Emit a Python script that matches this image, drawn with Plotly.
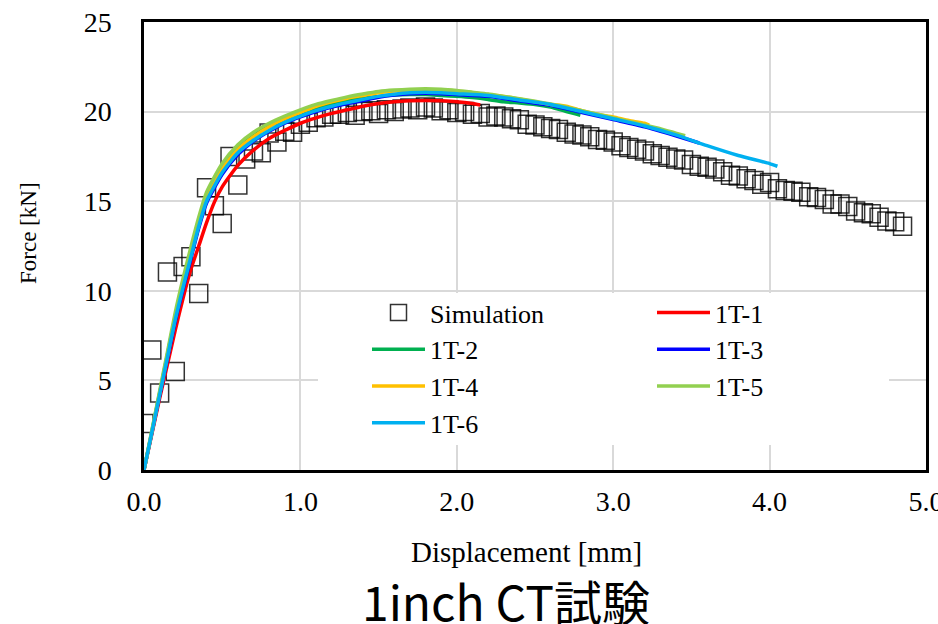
import plotly.graph_objects as go

# ---- Simulation (FEM) load-displacement points ----
sim_disp = [0.00, 0.05, 0.10, 0.15, 0.20, 0.25, 0.30, 0.35, 0.40, 0.45,
            0.50, 0.55, 0.60, 0.65, 0.70, 0.75, 0.80, 0.85, 0.90, 0.95,
            1.00, 1.05, 1.10, 1.15, 1.20, 1.25, 1.30, 1.35, 1.40, 1.45,
            1.50, 1.55, 1.60, 1.65, 1.70, 1.75, 1.80, 1.85, 1.90, 1.95,
            2.00, 2.05, 2.10, 2.15, 2.20, 2.25, 2.30, 2.35, 2.40, 2.45,
            2.50, 2.55, 2.60, 2.65, 2.70, 2.75, 2.80, 2.85, 2.90, 2.95,
            3.00, 3.05, 3.10, 3.15, 3.20, 3.25, 3.30, 3.35, 3.40, 3.45,
            3.50, 3.55, 3.60, 3.65, 3.70, 3.75, 3.80, 3.85, 3.90, 3.95,
            4.00, 4.05, 4.10, 4.15, 4.20, 4.25, 4.30, 4.35, 4.40, 4.45,
            4.50, 4.55, 4.60, 4.65, 4.70, 4.75, 4.80, 4.85]
sim_force = [2.6, 6.7, 4.3, 11.05, 5.5, 11.35, 11.9, 9.85, 15.75, 14.75,
             13.75, 17.5, 15.9, 17.35, 17.8, 17.7, 18.8, 18.3, 18.9, 18.85,
             19.3, 19.4, 19.65, 19.7, 19.85, 19.85, 19.95, 19.8, 20.0, 20.05,
             19.9, 20.1, 20.0, 20.15, 20.2, 20.1, 20.25, 20.2, 20.05, 20.1,
             19.95, 20.0, 19.85, 19.9, 19.7, 19.75, 19.7, 19.6, 19.55, 19.3,
             19.25, 19.15, 19.05, 19.0, 18.85, 18.75, 18.7, 18.6, 18.45, 18.4,
             18.3, 18.1, 18.0, 17.9, 17.8, 17.65, 17.55, 17.45, 17.35, 17.3,
             17.05, 16.95, 16.9, 16.8, 16.65, 16.45, 16.4, 16.25, 16.15, 15.95,
             16.05, 15.7, 15.6, 15.55, 15.5, 15.25, 15.2, 15.1, 14.85, 14.85,
             14.7, 14.45, 14.35, 14.3, 14.1, 13.9, 13.85, 13.6]

# ---- Test specimens ----
t1_disp = [0, 0.05, 0.1, 0.15, 0.2, 0.25, 0.3, 0.35, 0.4, 0.45, 0.5, 0.6, 0.7,
           0.8, 0.9, 1.0, 1.1, 1.2, 1.3, 1.4, 1.5, 1.6, 1.7, 1.8, 1.9, 2.0,
           2.1, 2.15]
t1_force = [0, 2.0, 4.0, 5.9, 7.8, 9.6, 11.2, 12.5, 13.8, 14.95, 15.8, 17.0,
            17.85, 18.5, 18.95, 19.35, 19.65, 19.9, 20.1, 20.3, 20.45, 20.55,
            20.6, 20.62, 20.6, 20.55, 20.45, 20.37]

t2_disp = [0, 0.05, 0.1, 0.15, 0.2, 0.25, 0.3, 0.35, 0.4, 0.5, 0.6, 0.7, 0.8,
           0.9, 1.0, 1.1, 1.2, 1.3, 1.4, 1.5, 1.6, 1.7, 1.8, 1.9, 2.0, 2.1,
           2.2, 2.3, 2.4, 2.5, 2.6, 2.7, 2.79]
t2_force = [0, 2.15, 4.3, 6.45, 8.6, 10.5, 12.2, 13.9, 15.3, 16.9, 17.95,
            18.65, 19.2, 19.6, 19.95, 20.2, 20.42, 20.6, 20.75, 20.85, 20.92,
            20.95, 20.95, 20.9, 20.85, 20.78, 20.68, 20.55, 20.48, 20.4,
            20.25, 20.0, 19.8]

t3_disp = [0, 0.05, 0.1, 0.15, 0.2, 0.25, 0.3, 0.35, 0.4, 0.5, 0.6, 0.7, 0.8,
           0.9, 1.0, 1.1, 1.2, 1.3, 1.4, 1.5, 1.6, 1.7, 1.8, 1.9, 2.0, 2.2,
           2.4, 2.6, 2.8, 3.0, 3.2, 3.4, 3.55]
t3_force = [0, 2.05, 4.15, 6.2, 8.3, 10.1, 11.8, 13.5, 14.9, 16.5, 17.6,
            18.35, 18.9, 19.35, 19.7, 20.0, 20.25, 20.45, 20.62, 20.8, 20.92,
            21.0, 21.02, 21.0, 20.95, 20.85, 20.6, 20.35, 19.95, 19.55, 19.15,
            18.65, 18.25]

t4_disp = [0, 0.05, 0.1, 0.15, 0.2, 0.25, 0.3, 0.35, 0.4, 0.5, 0.6, 0.7, 0.8,
           0.9, 1.0, 1.1, 1.2, 1.3, 1.4, 1.5, 1.6, 1.7, 1.8, 1.9, 2.0, 2.1,
           2.2, 2.3, 2.4, 2.5, 2.6, 2.7, 2.8, 2.9, 3.0, 3.1, 3.2, 3.23]
t4_force = [0, 2.1, 4.25, 6.35, 8.5, 10.35, 12.0, 13.7, 15.15, 16.8, 17.9,
            18.6, 19.15, 19.6, 19.95, 20.3, 20.55, 20.75, 20.9, 21.05, 21.15,
            21.2, 21.22, 21.2, 21.15, 21.05, 20.95, 20.85, 20.7, 20.55, 20.4,
            20.3, 20.05, 19.85, 19.7, 19.5, 19.35, 19.25]

t5_disp = [0, 0.05, 0.1, 0.15, 0.2, 0.25, 0.3, 0.35, 0.4, 0.5, 0.6, 0.7, 0.8,
           0.9, 1.0, 1.1, 1.2, 1.3, 1.4, 1.5, 1.6, 1.7, 1.8, 1.9, 2.0, 2.1,
           2.2, 2.3, 2.4, 2.5, 2.6, 2.7, 2.8, 2.9, 3.0, 3.1, 3.2, 3.3, 3.4,
           3.46]
t5_force = [0, 2.2, 4.4, 6.6, 8.8, 10.7, 12.45, 14.1, 15.5, 17.1, 18.15,
            18.85, 19.35, 19.75, 20.1, 20.4, 20.62, 20.82, 20.98, 21.12, 21.2,
            21.25, 21.27, 21.25, 21.18, 21.08, 20.98, 20.85, 20.72, 20.58,
            20.42, 20.25, 20.05, 19.85, 19.65, 19.45, 19.25, 19.05, 18.8,
            18.65]

t6_disp = [0, 0.05, 0.1, 0.15, 0.2, 0.25, 0.3, 0.35, 0.4, 0.5, 0.6, 0.7, 0.8,
           0.9, 1.0, 1.1, 1.2, 1.3, 1.4, 1.5, 1.6, 1.7, 1.8, 1.9, 2.0, 2.2,
           2.4, 2.6, 2.8, 3.0, 3.2, 3.4, 3.6, 3.8, 4.0, 4.05]
t6_force = [0, 2.1, 4.2, 6.3, 8.4, 10.2, 11.9, 13.6, 15.0, 16.6, 17.7, 18.4,
            18.95, 19.4, 19.75, 20.05, 20.3, 20.5, 20.68, 20.85, 20.97, 21.05,
            21.08, 21.05, 21.0, 20.9, 20.65, 20.4, 20.0, 19.6, 19.2, 18.7,
            18.1, 17.55, 17.1, 16.95]

x_ticks = [0, 1, 2, 3, 4, 5]
y_ticks = [0, 5, 10, 15, 20, 25]

SERIF = "Liberation Serif, Times New Roman, serif"

specimens = [
    ("1T-1", t1_disp, t1_force, "#FF0000", "legend2"),
    ("1T-2", t2_disp, t2_force, "#00B050", "legend"),
    ("1T-3", t3_disp, t3_force, "#0000FF", "legend2"),
    ("1T-4", t4_disp, t4_force, "#FFC000", "legend"),
    ("1T-5", t5_disp, t5_force, "#92D050", "legend2"),
    ("1T-6", t6_disp, t6_force, "#00B0F0", "legend"),
]

fig = go.Figure()

fig.add_trace(go.Scatter(
    x=sim_disp, y=sim_force, mode="markers", name="Simulation",
    legend="legend", legendgroup="sim",
    marker=dict(symbol="square-open", size=18,
                color="rgba(0,0,0,0.8)", line=dict(width=1.5)),
))

for name, xs, ys, color, leg in specimens:
    fig.add_trace(go.Scatter(
        x=xs, y=ys, mode="lines", name=name, legend=leg, legendgroup=name,
        line=dict(color=color, width=3.5, shape="spline", smoothing=0.6),
    ))

# plot-area geometry (pixels)
L, R, T, B = 144, 926, 22, 470
W, H = 938, 624
pw, ph = R - L, B - T


def px(xp):
    return (xp - L) / pw


def py(yp):
    return (B - yp) / ph


legend_style = dict(
    bgcolor="rgba(255,255,255,0)", borderwidth=0,
    font=dict(family=SERIF, size=26, color="black"),
    itemwidth=53, tracegroupgap=0,
    xanchor="left", yanchor="top", orientation="v",
)

fig.update_layout(
    width=W, height=H,
    margin=dict(l=L, r=W - R, t=T, b=H - B, autoexpand=False),
    paper_bgcolor="white", plot_bgcolor="white",
    showlegend=True,
    legend=dict(x=px(367), y=py(289), **legend_style),
    legend2=dict(x=px(652), y=py(289), **legend_style),
    xaxis=dict(
        range=[0, 5], tickvals=x_ticks, tickformat=".1f",
        showgrid=True, gridcolor="#D9D9D9", gridwidth=2,
        showline=True, linecolor="black", linewidth=2.5, mirror=True,
        ticks="", zeroline=False, automargin=False,
        tickfont=dict(family=SERIF, size=28, color="black"),
        ticklabelstandoff=5, ticklabeloverflow="allow",
    ),
    yaxis=dict(
        range=[0, 25], tickvals=y_ticks,
        showgrid=True, gridcolor="#D9D9D9", gridwidth=2,
        showline=True, linecolor="black", linewidth=2.5, mirror=True,
        ticks="", zeroline=False, automargin=False,
        tickfont=dict(family=SERIF, size=28, color="black"),
        ticklabelstandoff=24, ticklabeloverflow="allow",
    ),
    shapes=[dict(
        type="rect", xref="paper", yref="paper", layer="above",
        x0=px(318), x1=px(889), y0=py(445), y1=py(293),
        fillcolor="white", line=dict(width=0),
    )],
    annotations=[
        dict(text="Displacement [mm]", xref="paper", yref="paper",
             x=px(526), y=py(552), xanchor="center", yanchor="middle",
             showarrow=False, font=dict(family=SERIF, size=29, color="black")),
        dict(text="Force [kN]", xref="paper", yref="paper",
             x=px(28), y=py(233), xanchor="center", yanchor="middle",
             textangle=-90, showarrow=False,
             font=dict(family=SERIF, size=23, color="black")),
        dict(text="1inch CT試験", xref="paper", yref="paper",
             x=px(506), y=py(600), xanchor="center", yanchor="middle",
             showarrow=False,
             font=dict(family="Noto Sans CJK JP, sans-serif", size=48,
                       color="black")),
    ],
)

fig.write_html("out.html")
